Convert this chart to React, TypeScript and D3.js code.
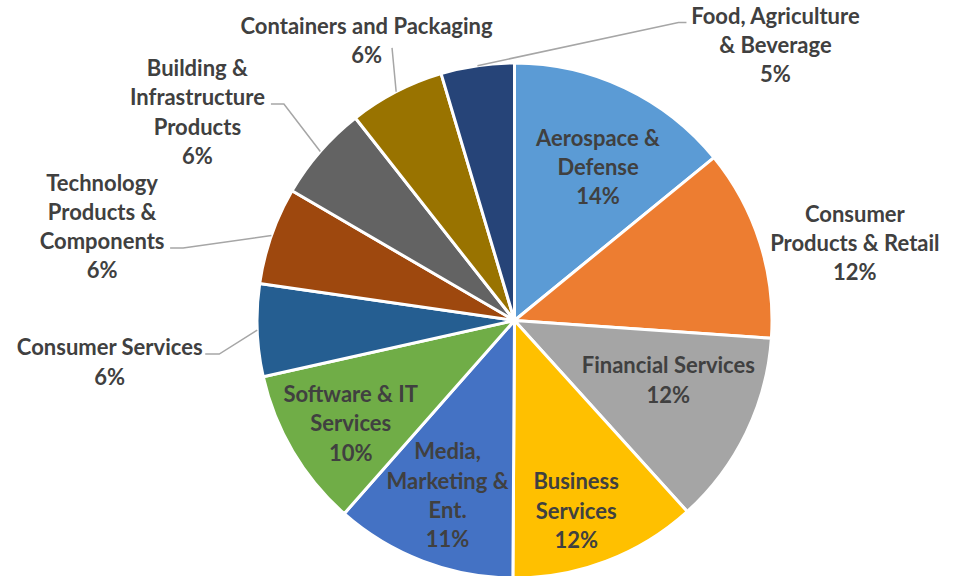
import React from "react";
import * as d3 from "d3";

const categories = [
  "Aerospace & Defense",
  "Consumer Products & Retail",
  "Financial Services",
  "Business Services",
  "Media, Marketing & Ent.",
  "Software & IT Services",
  "Consumer Services",
  "Technology Products & Components",
  "Building & Infrastructure Products",
  "Containers and Packaging",
  "Food, Agriculture & Beverage",
];
const values = [14.1, 12.0, 12.2, 11.8, 11.4, 10.0, 5.8, 6.1, 6.0, 6.0, 4.6];
const colors = [
  "#5B9BD5", "#ED7D31", "#A5A5A5", "#FFC000", "#4472C4", "#70AD47",
  "#255E91", "#9E480E", "#636363", "#997300", "#264478",
];
const labelLines = [
  ["Aerospace &", "Defense"],
  ["Consumer", "Products & Retail"],
  ["Financial Services"],
  ["Business", "Services"],
  ["Media,", "Marketing &", "Ent."],
  ["Software & IT", "Services"],
  ["Consumer Services"],
  ["Technology", "Products &", "Components"],
  ["Building &", "Infrastructure", "Products"],
  ["Containers and Packaging"],
  ["Food, Agriculture", "& Beverage"],
];
// label placement: polar angle (deg, clockwise from top) and radius fraction
const labelAngle = [28.5, 77.1, 111, 162, 201, 238, 264.2, 282.9, 303.4, 332.2, 43.4];
const labelRadius = [0.68, 1.356, 0.64, 0.775, 0.725, 0.75, 1.58, 1.643, 1.475, 1.232, 1.475];
// leader lines: [dx, dy] end relative to label centre, elbow length (0 = none, null = no leader)
const leaderEnd: (number[] | null)[] = [
  null, null, null, null, null, null,
  [95.5, -7.5, 14], [68, 22, 13], [73.5, -7.5, 13], [25.5, 8, 0], [-89, -22, -8],
];

const W = 959;
const H = 576;
const cx = 514.5;
const cy = 320.5;
const R = 257.5;
const LINE = 29.3;

export default function App() {
  const total = d3.sum(values);
  const pie = d3.pie<number>().sort(null).value((d) => d);
  const arcs = pie(values);
  const arc = d3.arc<d3.PieArcDatum<number>>().innerRadius(0).outerRadius(R);
  const pt = (angDeg: number, r: number) => {
    const a = (angDeg * Math.PI) / 180;
    return [cx + r * Math.sin(a), cy - r * Math.cos(a)];
  };
  return (
    <svg
      width={W}
      height={H}
      style={{ position: "absolute", left: 0, top: 0, background: "#fff" }}
    >
      <g transform={`translate(${cx},${cy})`}>
        {arcs.map((a, i) => (
          <path key={i} d={arc(a) || ""} fill={colors[i]} stroke="#fff" strokeWidth={3} strokeLinejoin="round" />
        ))}
      </g>
      {arcs.map((a, i) => {
        const le = leaderEnd[i];
        if (!le) return null;
        const [lx, ly] = pt(labelAngle[i], labelRadius[i] * R);
        const mid = ((a.startAngle + a.endAngle) / 2) * 180 / Math.PI;
        const [ax, ay] = pt(mid, R);
        const ex = lx + le[0];
        const ey = ly + le[1];
        const pts = le[2] !== 0 ? [[ex, ey], [ex + le[2], ey], [ax, ay]] : [[ex, ey], [ax, ay]];
        return (
          <polyline
            key={"l" + i}
            points={pts.map((p) => p.join(",")).join(" ")}
            fill="none"
            stroke="#A6A6A6"
            strokeWidth={1.5}
          />
        );
      })}
      {arcs.map((a, i) => {
        const [lx, ly] = pt(labelAngle[i], labelRadius[i] * R);
        const lines = [...labelLines[i], `${Math.round((values[i] / total) * 100)}%`];
        const n = lines.length;
        return (
          <g key={"t" + i}>
            {lines.map((t, j) => (
              <text
                key={j}
                x={lx}
                y={ly + (j - (n - 1) / 2) * LINE}
                textAnchor="middle"
                dominantBaseline="central"
                fontFamily="Lato, 'Open Sans', sans-serif"
                fontWeight="bold"
                fontSize={22}
                fill="#404040"
              >
                {t}
              </text>
            ))}
          </g>
        );
      })}
    </svg>
  );
}
